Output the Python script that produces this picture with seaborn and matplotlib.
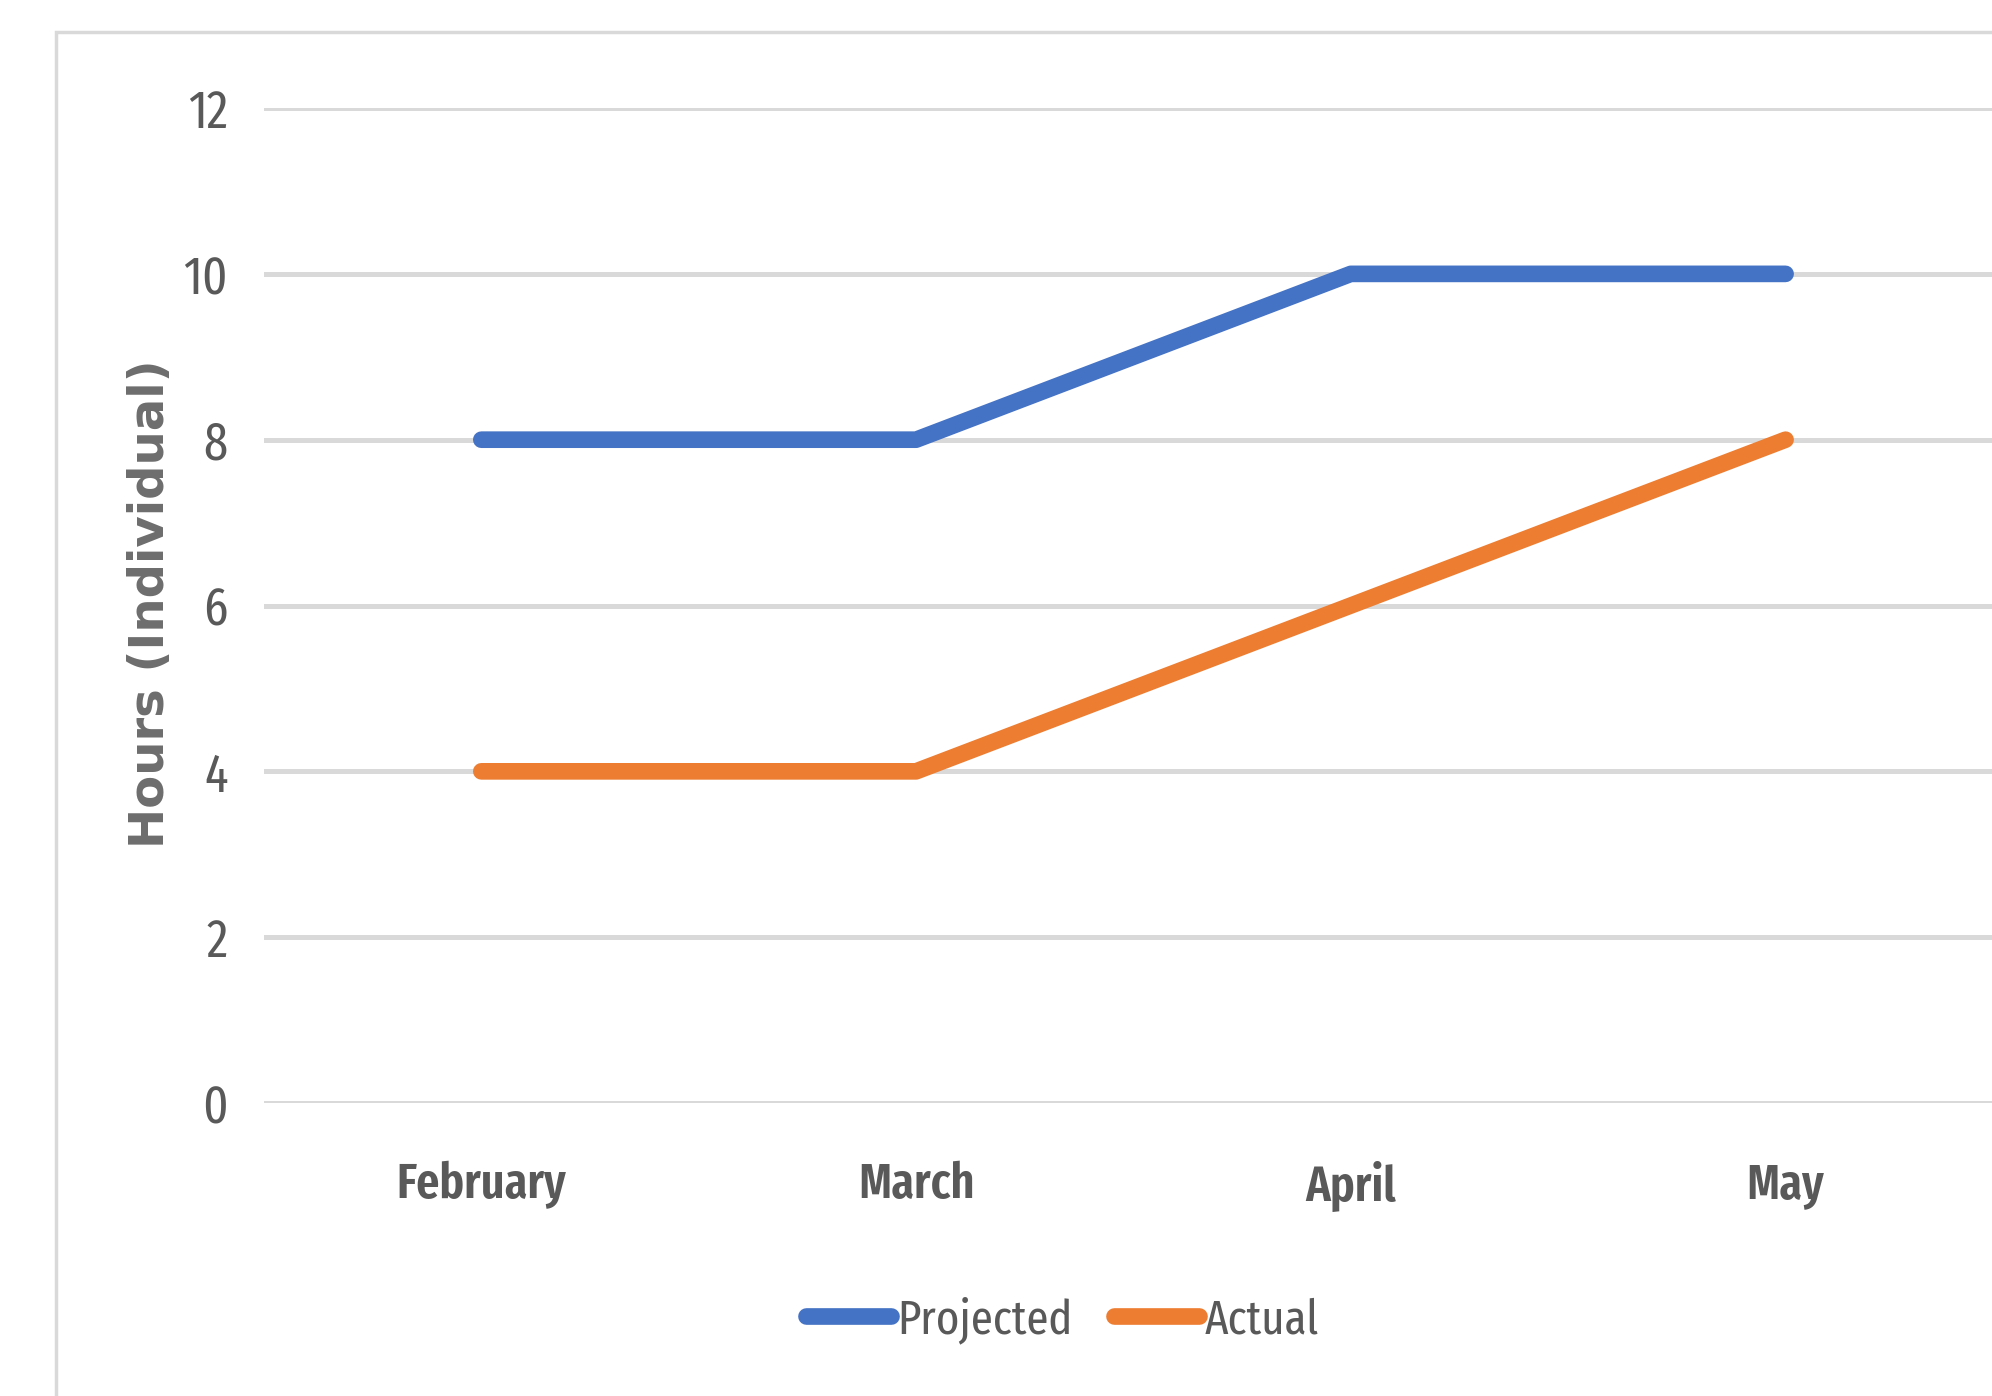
import os
import matplotlib
matplotlib.use("Agg")
import matplotlib.pyplot as plt
from matplotlib.patches import Rectangle
from matplotlib import font_manager as fm
import seaborn as sns
import pandas as pd

months = ["February", "March", "April", "May"]
projected = [8, 8, 10, 10]
actual = [4, 4, 6, 8]
series_names = ["Projected", "Actual"]
y_ticks = [0, 2, 4, 6, 8, 10, 12]

df = pd.DataFrame({
    "Month": months * 2,
    "Hours": projected + actual,
    "Series": [series_names[0]] * len(months) + [series_names[1]] * len(months),
})

sns.set_theme(style="white")
plt.rcParams["font.family"] = ["Roboto", "DejaVu Sans"]


def _weight(w):
    if isinstance(w, (int, float)):
        return int(w)
    return fm.weight_dict.get(str(w).lower(), 400)


def pick_narrow(target):
    best = None
    for f in fm.fontManager.ttflist:
        nm = f.name.lower()
        fn = os.path.basename(f.fname).lower()
        if "italic" in fn or f.style != "normal":
            continue
        narrow = (f.stretch in ("condensed", "semi-condensed", "extra-condensed")
                  or "narrow" in nm or "condensed" in nm
                  or "narrow" in fn or "condensed" in fn)
        if not narrow or "ultra" in fn:
            continue
        if "extracondensed" in fn or "extra-condensed" in fn or f.stretch == "extra-condensed":
            pref = 0
        elif "semicondensed" in fn or "semi-condensed" in fn or f.stretch == "semi-condensed":
            pref = 2
        else:
            pref = 1
        score = pref * 1000 + abs(_weight(f.weight) - target)
        if best is None or score < best[0]:
            best = (score, f.fname)
    if best is not None:
        return fm.FontProperties(fname=best[1])
    return fm.FontProperties(family="Roboto", weight=target)


fp_reg = pick_narrow(400)
fp_bold = pick_narrow(600)

fig = plt.figure(figsize=(19.92, 13.96), dpi=100)
ax = fig.add_axes([0.1325, 0.2099, 0.873, 0.7127])

sns.lineplot(data=df, x="Month", y="Hours", hue="Series",
             palette={"Projected": "#4472C4", "Actual": "#ED7D31"},
             linewidth=12, ax=ax, legend=False, sort=False)
for ln in ax.lines:
    ln.set_solid_capstyle("round")
    ln.set_solid_joinstyle("round")

ax.set_xlim(-0.5, len(months) - 0.5)
ax.set_ylim(0, 12)
ax.set_yticks(y_ticks)
ax.set_yticklabels([str(v) for v in y_ticks])
ax.yaxis.grid(True, color="#D9D9D9", linewidth=3.6)
ax.xaxis.grid(False)
ax.set_axisbelow(True)
for s in ax.spines.values():
    s.set_visible(False)
ax.tick_params(axis="both", length=0)
ax.tick_params(axis="y", pad=26, labelcolor="#595959")
ax.tick_params(axis="x", pad=42, labelcolor="#595959")
for lab in ax.get_yticklabels():
    lab.set_fontproperties(fp_reg)
    lab.set_fontsize(38)
for lab in ax.get_xticklabels():
    lab.set_fontproperties(fp_bold)
    lab.set_fontsize(36)
ax.set_xlabel("")
ax.set_ylabel("Hours (Individual)", fontsize=34.7, fontweight="bold",
              color="#6d6d6d", family=["DejaVu Sans"])
ax.yaxis.set_label_coords(-0.052, 0.502)

handles = [plt.Line2D([], [], color="#4472C4", lw=12, solid_capstyle="round"),
           plt.Line2D([], [], color="#ED7D31", lw=12, solid_capstyle="round")]
leg_prop = fp_reg.copy()
leg_prop.set_size(35)
leg = fig.legend(handles, series_names, loc="center", bbox_to_anchor=(0.5335, 0.0545),
                 ncol=2, frameon=False, prop=leg_prop, handlelength=1.75,
                 handletextpad=0.12, columnspacing=0.85, labelcolor="#595959")

fig.add_artist(Rectangle((0.0281, -0.1), 1.2, 0.977 + 0.1, transform=fig.transFigure,
                         fill=False, edgecolor="#D9D9D9", linewidth=2.5))

fig.savefig("out.png", dpi=100)
